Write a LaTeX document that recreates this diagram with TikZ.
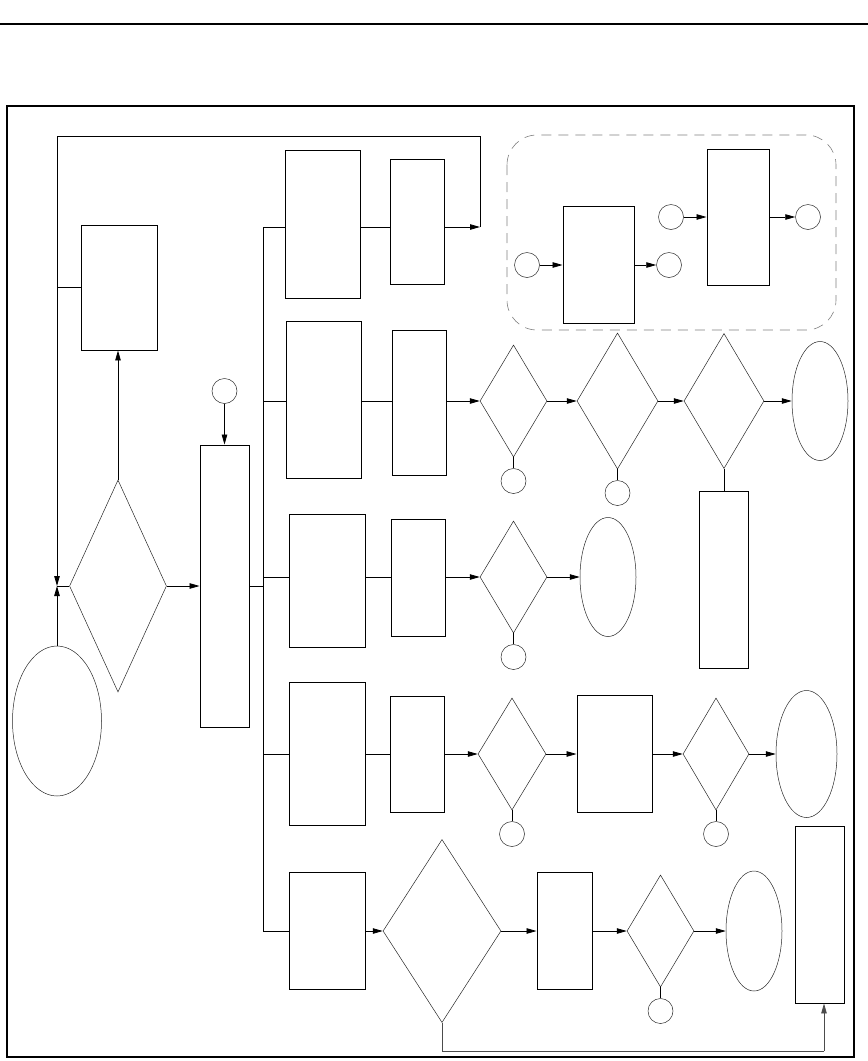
\documentclass[tikz,border=0pt]{standalone}
\usetikzlibrary{shapes.geometric,arrows.meta,positioning}

\tikzset{
  caja/.style 2 args={draw, line width=0.9pt, inner sep=0pt, minimum width=#1, minimum height=#2},
  rombo/.style 2 args={diamond, draw=black!85, line width=0.5pt, inner sep=0pt, minimum width=#1, minimum height=#2},
  elipse/.style 2 args={ellipse, draw=black!85, line width=0.5pt, inner sep=0pt, minimum width=#1, minimum height=#2},
  punto/.style={circle, draw=black!85, line width=0.5pt, inner sep=0pt, minimum size=25pt},
  linea/.style={line width=0.8pt},
  flecha/.style={linea, -{Triangle[length=10pt,width=5.5pt]}},
}

\begin{document}
\begin{tikzpicture}[x=1pt, y=-1pt]
    \useasboundingbox (0,0) rectangle (868,1061);
    % Marco
    \draw[line width=2pt] (0,24) -- (868,24);
    \draw[line width=2pt] (7,106) rectangle (854,1057);

    % Columna izquierda
    \node[elipse={89pt}{150pt}] (E0) at (57,721) {};
    \node[rombo={97pt}{212pt}] (D0) at (118,586) {};
    \node[caja={76pt}{125pt}] (L1) at (119,287.5) {};
    \node[caja={49pt}{282pt}] (M) at (224.5,586) {};
    \node[punto] (cM) at (224.5,391) {};
    \coordinate (J0) at (57,586);
    \coordinate (FB) at (57,136);
    \coordinate (T1) at (480,227);

    % Filas (y de cada rama)
    \coordinate (r1) at (263,227);
    \coordinate (r2) at (263,401);
    \coordinate (r3) at (263,577);
    \coordinate (r4) at (263,754);
    \coordinate (r5) at (263,931);

    % Fila 1
    \node[caja={75pt}{148pt}] (B1a) at (322.5,224) {};
    \node[caja={54pt}{125pt}] (B1b) at (417,221.5) {};

    % Grupo punteado
    \draw[gray, line width=0.6pt, dash pattern=on 10pt off 7pt, rounded corners=30pt] (507,135) rectangle (836,330);
    \node[punto] (c1) at (527,265) {};
    \node[caja={71pt}{117pt}] (G1) at (598.5,265) {};
    \node[punto] (c2) at (669,265) {};
    \node[punto] (c3) at (671,217) {};
    \node[caja={62pt}{136pt}] (G2) at (738,217) {};
    \node[punto] (c4) at (808,217) {};

    % Fila 2
    \node[caja={75pt}{157pt}] (B2a) at (323.5,399.5) {};
    \node[caja={54pt}{145pt}] (B2b) at (419,402.5) {};
    \node[rombo={67pt}{112pt}] (D2a) at (513.5,401) {};
    \node[rombo={81pt}{136pt}] (D2b) at (617.5,401) {};
    \node[rombo={80pt}{135pt}] (D2c) at (724,401) {};
    \node[caja={49pt}{177pt}] (R2) at (724,579.5) {};
    \node[elipse={56pt}{119pt}] (E2) at (820,401) {};

    % Fila 3
    \node[caja={76pt}{133pt}] (B3a) at (327,580.5) {};
    \node[caja={54pt}{117pt}] (B3b) at (418,577.5) {};
    \node[rombo={67pt}{112pt}] (D3) at (513.5,577) {};
    \node[elipse={56pt}{119pt}] (E3) at (608,577) {};

    % Fila 4
    \node[caja={76pt}{143pt}] (B4a) at (327,753.5) {};
    \node[caja={54pt}{116pt}] (B4b) at (417,754) {};
    \node[rombo={68pt}{112pt}] (D4a) at (512,754) {};
    \node[caja={75pt}{117pt}] (B4c) at (614.5,753.5) {};
    \node[rombo={66pt}{112pt}] (D4b) at (716,754) {};
    \node[elipse={61pt}{127pt}] (E4) at (806.5,754) {};

    % Fila 5
    \node[caja={76pt}{117pt}] (B5a) at (327,930.5) {};
    \node[rombo={118pt}{183pt}] (D5a) at (442,931) {};
    \node[caja={55pt}{117pt}] (B5b) at (564.5,930.5) {};
    \node[rombo={67pt}{112pt}] (D5b) at (660.5,931) {};
    \node[elipse={56pt}{120pt}] (E5) at (754,931) {};
    \node[caja={49pt}{177pt}] (R5) at (819.5,914.5) {};
    \coordinate (BL) at (824,1051);

    % Circulos bajo los rombos
    \foreach \d in {D2a,D2b,D3,D4a,D4b,D5b} {
        \node[punto, below=11pt of \d] (c\d) {};
        \draw[linea] (\d.south) -- (c\d.north);
    }

    % Conexiones de la columna izquierda
    \draw[flecha] (E0.north) -- (J0);
    \draw[linea] (D0.west) -- (J0);
    \draw[flecha] (T1) |- (FB) -- (J0);
    \draw[linea] (L1.west) -- (L1.west -| J0);
    \draw[flecha] (D0.north) -- (D0.north |- L1.south);
    \draw[flecha] (D0.east) -- (M.west);
    \draw[flecha] (cM.south) -- (M.north);
    \draw[linea] (M.east) -- (M.east -| r3);

    % Bus y ramas
    \draw[linea] (r1) -- (r5);
    \foreach \n/\r in {B1a/r1, B2a/r2, B3a/r3, B4a/r4, B5a/r5}
        \draw[linea] (\r) -- (\n.west |- \r);
    \foreach \a/\b/\r in {B1a/B1b/r1, B2a/B2b/r2, B3a/B3b/r3, B4a/B4b/r4}
        \draw[linea] (\a.east |- \r) -- (\b.west |- \r);
    \foreach \a/\b/\r in {B2b/D2a/r2, D2a/D2b/r2, D2b/D2c/r2, D2c/E2/r2,
                          B3b/D3/r3, D3/E3/r3,
                          B4b/D4a/r4, D4a/B4c/r4, B4c/D4b/r4, D4b/E4/r4,
                          B5a/D5a/r5, D5a/B5b/r5, B5b/D5b/r5, D5b/E5/r5}
        \draw[flecha] (\a.east |- \r) -- (\b.west |- \r);
    \draw[flecha] (B1b.east |- r1) -- (T1);
    \draw[linea] (D2c.south) -- (R2.north);

    % Grupo punteado: flechas
    \foreach \a/\b in {c1/G1, G1/c2, c3/G2, G2/c4}
        \draw[flecha] (\a.east) -- (\b.west);

    % Retorno inferior
    \draw[linea, black!70] (D5a.south) |- (BL);
    \draw[flecha, black!70] (BL) -- (BL |- R5.south);
\end{tikzpicture}
\end{document}
